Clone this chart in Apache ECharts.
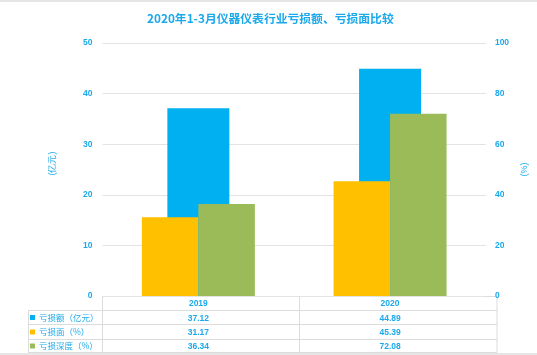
<!DOCTYPE html>
<html><head><meta charset="utf-8">
<script src="https://cdn.jsdelivr.net/npm/echarts@6/dist/echarts.min.js"></script>
<style>html,body{margin:0;padding:0;background:#fff}#c{width:537px;height:355px}</style>
</head><body><div id="c"></div>
<script>
const categories = ['2019', '2020'];
const lossAmount = [37.12, 44.89];
const lossRatio = [31.17, 45.39];
const lossDepth = [36.34, 72.08];
const seriesNames = ['亏损额（亿元）', '亏损面（%）', '亏损深度（%）'];
const colors = ['#00B0F0', '#FFC000', '#9BBB59'];
const txt = '#1CA9EC';

const chart = echarts.init(document.getElementById('c'));
const lineStyle = {stroke: '#dcdcdc', lineWidth: 1};
const L = 102.5, R = 497, M = 299.5, T0 = 296.5, rows = [310.5, 324.5, 339.5, 352.5];
const g = [];
g.push({type:'rect', shape:{x:0,y:0,width:537,height:2}, style:{fill:'#e6e6e6'}, silent:true});
g.push({type:'rect', shape:{x:0,y:353,width:537,height:2}, style:{fill:'#e6e6e6'}, silent:true});
g.push({type:'line', shape:{x1:L,y1:T0,x2:R,y2:T0}, style:lineStyle, silent:true});
rows.forEach(y => g.push({type:'line', shape:{x1:28,y1:y,x2:R,y2:y}, style:lineStyle, silent:true}));
g.push({type:'line', shape:{x1:28.5,y1:rows[0],x2:28.5,y2:rows[3]}, style:lineStyle, silent:true});
[L, M, R].forEach(x => g.push({type:'line', shape:{x1:x,y1:T0,x2:x,y2:rows[3]}, style:lineStyle, silent:true}));

const legendCenters = [317.5, 332, 346];
const legends = seriesNames.map((n, i) => ({
  orient: 'vertical', left: 30, top: legendCenters[i] - 7, itemWidth: 5, itemHeight: 5, itemGap: 0,
  icon: 'rect', data: [n], padding: 0,
  textStyle: {color: txt, fontSize: 8.5, lineHeight: 14, padding: [0,0,0,-1], fontFamily: 'Noto Sans CJK SC'}
}));

chart.setOption({
  animation: false,
  title: {text: '2020年1-3月仪器仪表行业亏损额、亏损面比较', left: 142, top: 8,
    textStyle: {color: txt, fontSize: 11.8, fontWeight: 'bold', fontFamily: 'Noto Sans CJK SC'}},
  grid: {left: L, right: 537 - R, top: 43, bottom: 355 - 296},
  legend: legends,
  xAxis: [
    {type: 'category', data: categories, axisLine: {show: false}, axisTick: {show: false},
      axisLabel: {margin: 1, interval: 0, color: txt, fontSize: 8.5, fontWeight: 'bold', lineHeight: 14.3,
        formatter: (v, i) => [v, lossAmount[i].toFixed(2), lossRatio[i].toFixed(2), lossDepth[i].toFixed(2)].join('\n')}},
    {type: 'category', data: categories, show: false}
  ],
  yAxis: [
    {type: 'value', min: 0, max: 50, interval: 10, name: '(亿元)', nameLocation: 'middle', nameGap: 45,
      nameTextStyle: {color: txt, fontSize: 9, padding: [0,0,0,12]}, axisLine: {show: false}, axisTick: {show: false},
      axisLabel: {color: txt, fontSize: 8.5, fontWeight: 'bold', margin: 10},
      splitLine: {lineStyle: {color: '#e3e3e3'}}},
    {type: 'value', min: 0, max: 100, interval: 20, name: '(%)', nameLocation: 'middle', nameGap: 27,
      nameRotate: 90,
      nameTextStyle: {color: txt, fontSize: 9}, axisLine: {show: false}, axisTick: {show: false},
      axisLabel: {color: txt, fontSize: 8.5, fontWeight: 'bold', margin: 9},
      splitLine: {show: false}}
  ],
  series: [
    {name: seriesNames[0], type: 'bar', xAxisIndex: 1, yAxisIndex: 0, data: lossAmount, barWidth: 62,
      itemStyle: {color: colors[0]}, z: 1},
    {name: seriesNames[1], type: 'bar', xAxisIndex: 0, yAxisIndex: 1, data: lossRatio, barWidth: 56.5, barGap: '0%',
      itemStyle: {color: colors[1]}, z: 2},
    {name: seriesNames[2], type: 'bar', xAxisIndex: 0, yAxisIndex: 1, data: lossDepth, barWidth: 56.5, barGap: '0%',
      itemStyle: {color: colors[2]}, z: 2}
  ],
  graphic: g
});
</script></body></html>
